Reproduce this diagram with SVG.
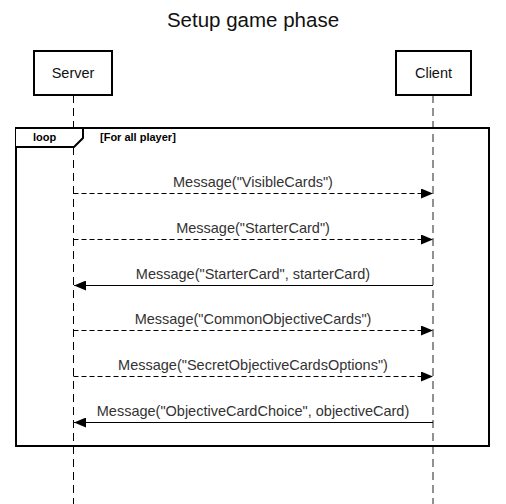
<svg xmlns="http://www.w3.org/2000/svg" width="506" height="504" viewBox="0 0 506 504">
<style>
.t{font-family:"Liberation Sans",Arial,sans-serif;fill:#333;font-size:14.5px;text-anchor:middle}
.b{font-family:"Liberation Sans",Arial,sans-serif;fill:#000;font-size:11px;font-weight:bold}
.box{fill:#fff;stroke:#000;stroke-width:2}
.life{stroke:#000;stroke-width:1;stroke-dasharray:8 5;fill:none}
.ret{stroke:#000;stroke-width:1;stroke-dasharray:5 3;fill:none}
.call{stroke:#000;stroke-width:1;fill:none}
</style>
<defs>
<marker id="ah" markerWidth="12" markerHeight="10" refX="12" refY="5" orient="auto" markerUnits="userSpaceOnUse">
<path d="M0,0 L12,5 L0,10 Z" fill="#000"/>
</marker>
</defs>
<rect width="506" height="504" fill="#fff"/>
<text x="253" y="27" class="t" style="font-size:20.5px;fill:#111">Setup game phase</text>
<g id="lifelines">
<line class="life" x1="73.5" y1="95" x2="73.5" y2="504"/>
<line class="life" x1="433" y1="95" x2="433" y2="504" style="stroke:#222"/>
</g>
<g id="server">
<rect class="box" x="34" y="51" width="78" height="44"/>
<text class="t" x="73" y="78" style="fill:#111">Server</text>
</g>
<g id="client">
<rect class="box" x="396" y="51" width="75" height="44"/>
<text class="t" x="433.5" y="78" style="fill:#111">Client</text>
</g>
<g id="loop">
<rect x="16" y="128" width="473" height="318" fill="none" stroke="#000" stroke-width="2"/>
<path d="M16,128 L83,128 L83,138 L74,147 L16,147" fill="#fff" stroke="#000" stroke-width="2"/>
<text class="b" x="33" y="141">loop</text>
<text class="b" x="100" y="141">[For all player]</text>
</g>
<g id="connectors">
<line class="ret" x1="73.5" y1="193.5" x2="433" y2="193.5" marker-end="url(#ah)"/>
<text class="t" x="253" y="187">Message("VisibleCards")</text>
<line class="ret" x1="73.5" y1="239.5" x2="433" y2="239.5" marker-end="url(#ah)"/>
<text class="t" x="253" y="233">Message("StarterCard")</text>
<line class="call" x1="433" y1="285.5" x2="74" y2="285.5" marker-end="url(#ah)"/>
<text class="t" x="253" y="279">Message("StarterCard", starterCard)</text>
<line class="ret" x1="73.5" y1="330.5" x2="433" y2="330.5" marker-end="url(#ah)"/>
<text class="t" x="253" y="324">Message("CommonObjectiveCards")</text>
<line class="ret" x1="73.5" y1="376.5" x2="433" y2="376.5" marker-end="url(#ah)"/>
<text class="t" x="253" y="370">Message("SecretObjectiveCardsOptions")</text>
<line class="call" x1="433" y1="422.5" x2="74" y2="422.5" marker-end="url(#ah)"/>
<text class="t" x="253" y="416">Message("ObjectiveCardChoice", objectiveCard)</text>
</g>
</svg>
